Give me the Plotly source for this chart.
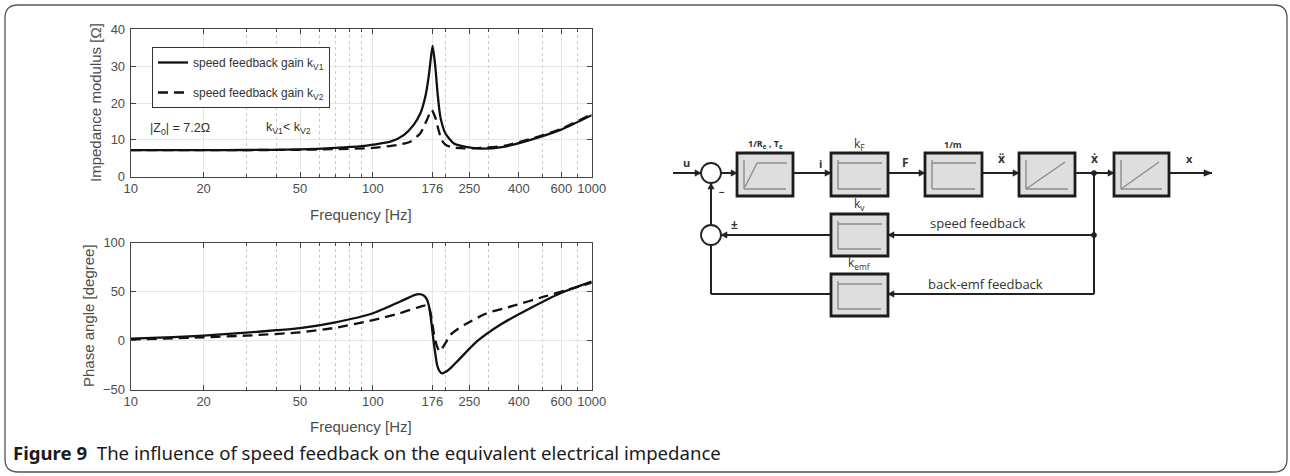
import math
import plotly.graph_objects as go

# ---------------- data ----------------
freq_z1 = [10, 20, 30, 50, 70, 90, 100, 118, 134, 147, 157, 164.5, 169.8, 173.7, 176.4,
           180.9, 184.9, 189.7, 199, 215, 245, 278, 346, 447, 594, 800]
z_kv1 = [7.2, 7.2, 7.25, 7.4, 7.8, 8.3, 8.7, 9.5, 11.3, 14.0, 17.2, 21.7, 27.1, 32.6, 35.5,
         29.9, 22.6, 16.3, 11.8, 9.1, 8.0, 7.6, 8.1, 10.0, 12.7, 16.7]

freq_z2 = [10, 20, 50, 70, 100, 125.6, 142.6, 157, 167, 174.7, 181, 186, 192, 200, 215,
           240, 280, 350, 450, 600, 800]
z_kv2 = [7.2, 7.2, 7.3, 7.5, 7.8, 8.6, 9.5, 11.8, 15.4, 18.1, 16.0, 13.0, 10.0, 8.6, 7.9,
         7.7, 7.8, 8.4, 10.3, 13.0, 17.0]

freq_p1 = [10, 15, 20, 30, 40, 50, 70, 100, 129, 140, 148, 155, 162, 167, 170, 173, 175.5,
           178, 181, 184, 188, 193, 200, 208.5, 229, 268, 334, 432, 594, 800]
phase_kv1 = [2.0, 3.5, 5.0, 8.0, 10.5, 12.6, 18.5, 27.8, 39.6, 43.5, 46.3, 47.3, 46.0, 42.0,
             36.0, 25.0, 12.0, -1.0, -14.0, -25.0, -31.0, -33.5, -32.0, -28.4, -18.2, -1.2,
             15.8, 31.1, 48.2, 60.0]

freq_p2 = [10, 20, 30, 50, 70, 100, 129, 154, 165, 170, 173, 176, 178, 181, 184, 188, 193,
           200, 208.5, 225, 245, 295, 381, 508, 633, 800]
phase_kv2 = [1.0, 3.3, 5.0, 8.3, 13.0, 20.9, 27.8, 33.9, 35.8, 34.5, 28.0, 17.0, 9.0, 0.0,
             -6.0, -11.0, -8.0, -2.0, 5.6, 12.0, 17.5, 27.8, 35.5, 44.7, 51.5, 59.0]

x_tick_vals = [10, 20, 50, 100, 176, 250, 400, 600, 800]
x_tick_text = ["10", "20", "50", "100", "176", "250", "400", "600", "1000"]
x_minor_vals = [30, 40, 60, 70, 80, 90, 200, 300, 500, 700]
z_tick_vals = [0, 10, 20, 30, 40]
phase_tick_vals = [-50, 0, 50, 100]

series_names = ["speed feedback gain k<sub>V1</sub>", "speed feedback gain k<sub>V2</sub>"]
caption_bold = "Figure 9"
caption_text = "The influence of speed feedback on the equivalent electrical impedance"

# ---------------- helpers (pixel -> paper) ----------------
W, H = 1290, 476


def X(x):
    return x / W


def Y(y):
    return 1 - y / H


PLOT_FONT = "Liberation Sans, Arial, sans-serif"
DIAG_FONT = "Open Sans, sans-serif"
TXT = "#4d4d4d"

fig = go.Figure()

fig.add_trace(go.Scatter(x=freq_z1, y=z_kv1, mode="lines", name=series_names[0],
                         line=dict(color="#111", width=2.3, shape="spline", smoothing=0.6),
                         xaxis="x", yaxis="y", legendgroup="a"))
fig.add_trace(go.Scatter(x=freq_z2, y=z_kv2, mode="lines", name=series_names[1],
                         line=dict(color="#111", width=2.3, dash="10px,6px", shape="spline", smoothing=0.6),
                         xaxis="x", yaxis="y", legendgroup="b"))
fig.add_trace(go.Scatter(x=freq_p1, y=phase_kv1, mode="lines", showlegend=False,
                         line=dict(color="#111", width=2.3, shape="spline", smoothing=0.6),
                         xaxis="x2", yaxis="y2"))
fig.add_trace(go.Scatter(x=freq_p2, y=phase_kv2, mode="lines", showlegend=False,
                         line=dict(color="#111", width=2.3, dash="10px,6px", shape="spline", smoothing=0.6),
                         xaxis="x2", yaxis="y2"))

xdom = [X(130.7), X(591.7)]


def xaxis_cfg(anchor):
    return dict(type="log", range=[1, math.log10(800)], domain=xdom, anchor=anchor,
                tickmode="array", tickvals=x_tick_vals, ticktext=x_tick_text,
                ticks="inside", ticklen=5, tickcolor="#444", showline=True, linecolor="#444",
                linewidth=1, mirror="ticks", showgrid=True, gridcolor="#e6e6e6", gridwidth=1,
                zeroline=False, automargin=False,
                tickfont=dict(family=PLOT_FONT, size=13, color=TXT),
                minor=dict(tickmode="array", tickvals=x_minor_vals, showgrid=True, griddash="dot",
                           gridcolor="#cccccc", ticks="inside", ticklen=3, tickcolor="#444"))


def yaxis_cfg(anchor, dom, rng, tv):
    return dict(domain=dom, anchor=anchor, range=rng, tickmode="array", tickvals=tv,
                ticks="inside", ticklen=5, tickcolor="#444", showline=True, linecolor="#444",
                linewidth=1, mirror="ticks", showgrid=True, gridcolor="#e6e6e6", zeroline=False,
                automargin=False, ticklabelstandoff=2,
                tickfont=dict(family=PLOT_FONT, size=13, color=TXT))


shapes = []
annotations = []


def line(x0, y0, x1, y1, color="#222", width=2.0):
    shapes.append(dict(type="line", xref="paper", yref="paper", x0=X(x0), y0=Y(y0),
                       x1=X(x1), y1=Y(y1), line=dict(color=color, width=width)))


def arrow(x, y, d, size=6, hw=3.2):
    # tip at (x,y); d in 'r','l','u','d'
    if d == "r":
        pts = [(x, y), (x - size, y - hw), (x - size, y + hw)]
    elif d == "l":
        pts = [(x, y), (x + size, y - hw), (x + size, y + hw)]
    elif d == "u":
        pts = [(x, y), (x - hw, y + size), (x + hw, y + size)]
    else:
        pts = [(x, y), (x - hw, y - size), (x + hw, y - size)]
    p = "M " + " L ".join(f"{X(a):.6f},{Y(b):.6f}" for a, b in pts) + " Z"
    shapes.append(dict(type="path", xref="paper", yref="paper", path=p,
                       fillcolor="#222", line=dict(color="#222", width=0.5)))


def circle(cx, cy, r, fill="white", lw=1.8):
    shapes.append(dict(type="circle", xref="paper", yref="paper", x0=X(cx - r), x1=X(cx + r),
                       y0=Y(cy + r), y1=Y(cy - r), fillcolor=fill, line=dict(color="#222", width=lw)))


def text(x, y, s, size=11, anchor="center", font=DIAG_FONT, color="#333"):
    annotations.append(dict(x=X(x), y=Y(y), xref="paper", yref="paper", text=s, showarrow=False,
                            xanchor=anchor, yanchor="middle",
                            font=dict(family=font, size=size, color=color)))


def block(x0, x1, y0, y1, kind):
    shapes.append(dict(type="rect", xref="paper", yref="paper", x0=X(x0), x1=X(x1), y0=Y(y1), y1=Y(y0),
                       fillcolor="#dedede", line=dict(color="#1c1c1c", width=2.8)))
    g = "#8c8c8c"
    lx, rx, ty, by = x0 + 7, x1 - 7, y0 + 7, y1 - 7
    line(lx, ty, lx, by, g, 1.4)
    line(lx, by, rx, by, g, 1.4)
    if kind == "gain":
        line(lx, ty + 3, rx + 1, ty + 3, g, 1.4)
    elif kind == "lag":
        line(lx + 1, by - 2, lx + 13, ty + 3, g, 1.4)
        line(lx + 13, ty + 3, rx + 1, ty + 3, g, 1.4)
    else:
        line(lx, by, rx - 3, ty + 2, g, 1.4)


# ---------------- outer rounded frame ----------------
fx0, fy0, fx1, fy1, rr = 5, 5, 1287, 472, 13
frame = (f"M {X(fx0 + rr)},{Y(fy0)} L {X(fx1 - rr)},{Y(fy0)} Q {X(fx1)},{Y(fy0)} {X(fx1)},{Y(fy0 + rr)} "
         f"L {X(fx1)},{Y(fy1 - rr)} Q {X(fx1)},{Y(fy1)} {X(fx1 - rr)},{Y(fy1)} "
         f"L {X(fx0 + rr)},{Y(fy1)} Q {X(fx0)},{Y(fy1)} {X(fx0)},{Y(fy1 - rr)} "
         f"L {X(fx0)},{Y(fy0 + rr)} Q {X(fx0)},{Y(fy0)} {X(fx0 + rr)},{Y(fy0)} Z")
shapes.append(dict(type="path", xref="paper", yref="paper", path=frame,
                   line=dict(color="#555", width=1.3), layer="below"))

# ---------------- block diagram ----------------
my = 173
line(673, my, 701, my); arrow(701, my, "r")
circle(711, my, 10)
line(721, my, 737, my); arrow(737, my, "r")
block(737, 793, 153, 196, "lag")
line(793, my, 831, my); arrow(831, my, "r")
block(831, 888, 153, 196, "gain")
line(888, my, 925, my); arrow(925, my, "r")
block(925, 982, 153, 196, "gain")
line(982, my, 1019, my); arrow(1019, my, "r")
block(1019, 1075, 153, 196, "int")
line(1075, my, 1114, my); arrow(1114, my, "r")
block(1114, 1169, 153, 196, "int")
line(1169, my, 1212, my); arrow(1212, my, "r", size=8)

# feedback branches
line(1094, my, 1094, 294)
line(1094, 235, 888, 235); arrow(888, 235, "l")
block(831, 888, 214, 256, "gain")
line(831, 235, 721, 235); arrow(721, 235, "l")
circle(711, 235, 10)
line(711, 225, 711, 183); arrow(711, 183, "u")
line(711, 245, 711, 294)
line(711, 294, 831, 294)
line(1094, 294, 888, 294); arrow(888, 294, "l")
block(831, 888, 274, 316, "gain")
circle(1094, my, 2.6, fill="#222", lw=0.5)
circle(1094, 235, 2.6, fill="#222", lw=0.5)

text(686, 162, "<b>u</b>", 11)
text(765, 144, "<b>1/R<sub>e</sub> , T<sub>e</sub></b>", 9)
text(820, 163, "<b>i</b>", 11)
text(859, 144, "k<sub>F</sub>", 12)
text(905, 162, "<b>F</b>", 12)
text(953, 144, "<b>1/m</b>", 9)
text(1001, 159, "<b>ẍ</b>", 12)
text(1094, 159, "<b>ẋ</b>", 12)
text(1189, 159, "<b>x</b>", 11)
text(859, 204, "k<sub>v</sub>", 12)
text(734, 224, "<b>±</b>", 12)
text(722, 192, "<b>−</b>", 10)
text(978, 223, "speed feedback", 13)
text(859, 263, "k<sub>emf</sub>", 12)
text(985, 284, "back-emf feedback", 13)

# ---------------- plot texts ----------------
text(360.5, 215, "Frequency [Hz]", 15, font=PLOT_FONT, color=TXT)
text(360.5, 426, "Frequency [Hz]", 15, font=PLOT_FONT, color=TXT)
annotations.append(dict(x=X(95), y=Y(103), xref="paper", yref="paper", text="Impedance modulus [Ω]",
                        textangle=-90, showarrow=False, xanchor="center", yanchor="middle",
                        font=dict(family=PLOT_FONT, size=15, color=TXT)))
annotations.append(dict(x=X(88), y=Y(316), xref="paper", yref="paper", text="Phase angle [degree]",
                        textangle=-90, showarrow=False, xanchor="center", yanchor="middle",
                        font=dict(family=PLOT_FONT, size=15, color=TXT)))
text(148, 129, "|Z<sub>0</sub>| = 7.2Ω", 12.5, anchor="left", font=PLOT_FONT, color="#333")
text(264, 128, "k<sub>V1</sub>< k<sub>V2</sub>", 12.5, anchor="left", font=PLOT_FONT, color="#333")

# caption
annotations.append(dict(x=X(11), y=Y(452), xref="paper", yref="paper",
                        text=f"<b>{caption_bold}</b>  {caption_text}", showarrow=False,
                        xanchor="left", yanchor="middle",
                        font=dict(family="Noto Sans, sans-serif", size=18.6, color="#1a1a1a")))

fig.update_layout(
    width=W, height=H, template="none",
    margin=dict(l=0, r=0, t=0, b=0),
    paper_bgcolor="white", plot_bgcolor="white",
    xaxis=xaxis_cfg("y"),
    yaxis=yaxis_cfg("x", [Y(176.7), Y(29.3)], [0, 40], z_tick_vals),
    xaxis2=xaxis_cfg("y2"),
    yaxis2=yaxis_cfg("x2", [Y(389.5), Y(242.5)], [-50, 100], phase_tick_vals),
    showlegend=True,
    legend=dict(x=X(152), y=Y(47), xanchor="left", yanchor="top", bgcolor="white",
                bordercolor="#333", borderwidth=1, tracegroupgap=11,
                font=dict(family=PLOT_FONT, size=12, color="#333")),
    shapes=shapes, annotations=annotations,
)

fig.write_html("out.html", config={"displayModeBar": False},
               post_script="document.body.style.margin='0';document.body.style.overflow='hidden';")
